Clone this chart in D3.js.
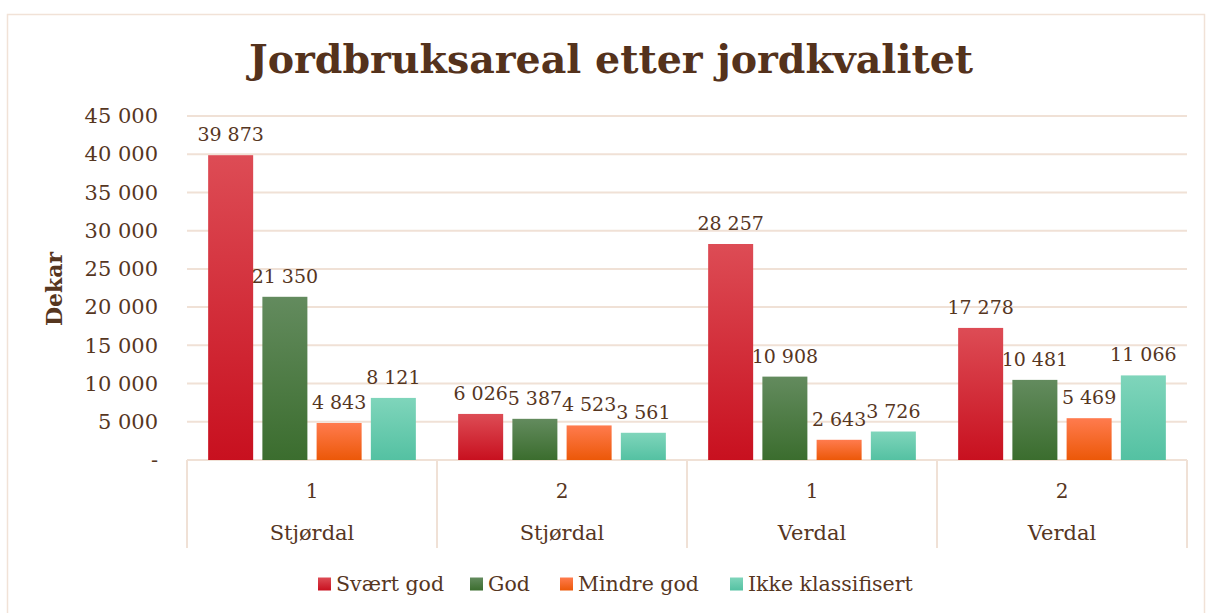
<!DOCTYPE html>
<html>
<head>
<meta charset="utf-8">
<script src="https://cdn.jsdelivr.net/npm/d3@7"></script>
<style>
  body { margin: 0; background: #fff; }
  text { font-family: "DejaVu Serif", Georgia, serif; fill: #56361f; }
</style>
</head>
<body>
<div id="chart"></div>
<script>
// Data
var groups = ["1", "2", "1", "2"];
var regions = ["Stjørdal", "Stjørdal", "Verdal", "Verdal"];
var seriesNames = ["Svært god", "God", "Mindre god", "Ikke klassifisert"];
var sværtGod = [39873, 6026, 28257, 17278];
var god = [21350, 5387, 10908, 10481];
var mindreGod = [4843, 4523, 2643, 5469];
var ikkeKlassifisert = [8121, 3561, 3726, 11066];
var yTicks = [0, 5000, 10000, 15000, 20000, 25000, 30000, 35000, 40000, 45000];

var seriesValues = [sværtGod, god, mindreGod, ikkeKlassifisert];
var gradients = [
  ["#dd4c55", "#c8101f"],
  ["#638b5e", "#3b6d2e"],
  ["#ff7b4e", "#ec5808"],
  ["#7fd5bb", "#54c1a2"]
];

var W = 1212, H = 613;
var margin = {top: 116, right: 25, bottom: 153, left: 187},
    width = W - margin.left - margin.right,
    height = H - margin.top - margin.bottom;

var svg = d3.select("#chart")
  .append("svg")
  .attr("width", W)
  .attr("height", H);

// gradients
var defs = svg.append("defs");
gradients.forEach(function(c, i) {
  var g = defs.append("linearGradient")
    .attr("id", "grad" + i)
    .attr("x1", 0).attr("y1", 0).attr("x2", 0).attr("y2", 1);
  g.append("stop").attr("offset", "0%").attr("stop-color", c[0]);
  g.append("stop").attr("offset", "100%").attr("stop-color", c[1]);
});

// outer border
svg.append("rect")
  .attr("x", 7.5).attr("y", 14.5)
  .attr("width", 1197).attr("height", 620)
  .attr("fill", "none")
  .attr("stroke", "#f1e2d7")
  .attr("stroke-width", 1.5);

// title
svg.append("text")
  .attr("x", 611)
  .attr("y", 73)
  .attr("text-anchor", "middle")
  .style("font-size", "39.5px")
  .style("font-weight", "bold")
  .style("fill", "#54321c")
  .text("Jordbruksareal etter jordkvalitet");

var chart = svg.append("g")
  .attr("transform", "translate(" + margin.left + "," + margin.top + ")");

var x0 = d3.scaleBand()
  .domain(d3.range(groups.length))
  .range([0, width])
  .padding(0);

var x1 = d3.scaleBand()
  .domain(d3.range(seriesNames.length))
  .range([0, x0.bandwidth()])
  .paddingInner(0.17)
  .paddingOuter(0.39);

var y = d3.scaleLinear()
  .domain([0, 45000])
  .range([height, 0]);

var fmt = function(v) {
  return v === 0 ? "-" : d3.format(",")(v).replace(/,/g, " ");
};

// gridlines
chart.append("g")
  .selectAll("line")
  .data(yTicks.filter(function(d) { return d > 0; }))
  .join("line")
  .attr("x1", 0).attr("x2", width)
  .attr("y1", function(d) { return y(d); })
  .attr("y2", function(d) { return y(d); })
  .attr("stroke", "#f0e1d6")
  .attr("stroke-width", 2);

// y axis labels
var yAxis = d3.axisLeft(y)
  .tickValues(yTicks)
  .tickSize(0)
  .tickPadding(29)
  .tickFormat(fmt);

chart.append("g")
  .call(yAxis)
  .call(function(g) { g.select(".domain").remove(); })
  .selectAll("text")
  .style("font-size", "21px")
  .style("font-family", "'DejaVu Serif', serif")
  .attr("fill", "#56361f");

svg.append("text")
  .attr("transform", "translate(62,289) rotate(-90)")
  .attr("text-anchor", "middle")
  .style("font-size", "22px")
  .style("font-weight", "bold")
  .text("Dekar");

// x axis: box lines
var axisG = chart.append("g").attr("transform", "translate(0," + height + ")");
axisG.append("line")
  .attr("x1", 0).attr("x2", width)
  .attr("y1", 0).attr("y2", 0)
  .attr("stroke", "#f0e1d6").attr("stroke-width", 2);

axisG.selectAll(".sep")
  .data(d3.range(groups.length + 1))
  .join("line")
  .attr("class", "sep")
  .attr("x1", function(d) { return d * x0.bandwidth(); })
  .attr("x2", function(d) { return d * x0.bandwidth(); })
  .attr("y1", 0).attr("y2", 88)
  .attr("stroke", "#f0e1d6").attr("stroke-width", 2);

axisG.selectAll(".lvl1")
  .data(groups)
  .join("text")
  .attr("class", "lvl1")
  .attr("x", function(d, i) { return x0(i) + x0.bandwidth() / 2; })
  .attr("y", 38)
  .attr("text-anchor", "middle")
  .style("font-size", "20px")
  .text(function(d) { return d; });

axisG.selectAll(".lvl2")
  .data(regions)
  .join("text")
  .attr("class", "lvl2")
  .attr("x", function(d, i) { return x0(i) + x0.bandwidth() / 2; })
  .attr("y", 80)
  .attr("text-anchor", "middle")
  .style("font-size", "21px")
  .text(function(d) { return d; });

// bars
var series = chart.selectAll(".series")
  .data(seriesValues)
  .join("g")
  .attr("class", "series")
  .attr("fill", function(d, i) { return "url(#grad" + i + ")"; });

series.each(function(vals, si) {
  var g = d3.select(this);
  g.selectAll("rect")
    .data(vals)
    .join("rect")
    .attr("x", function(d, i) { return x0(i) + x1(si); })
    .attr("y", function(d) { return y(d); })
    .attr("width", x1.bandwidth())
    .attr("height", function(d) { return height - y(d); });

  chart.append("g").selectAll("text")
    .data(vals)
    .join("text")
    .attr("x", function(d, i) { return x0(i) + x1(si) + x1.bandwidth() / 2; })
    .attr("y", function(d) { return y(d) - 14; })
    .attr("text-anchor", "middle")
    .style("font-size", "19px")
    .text(fmt);
});

// legend
var legendX = [318, 470, 560, 730];
var legend = svg.append("g").attr("transform", "translate(0,584)");
seriesNames.forEach(function(name, i) {
  legend.append("rect")
    .attr("x", legendX[i]).attr("y", -6.5)
    .attr("width", 13).attr("height", 13)
    .attr("fill", "url(#grad" + i + ")");
  legend.append("text")
    .attr("x", legendX[i] + 18)
    .attr("y", 7)
    .style("font-size", "20.5px")
    .text(name);
});
</script>
</body>
</html>
